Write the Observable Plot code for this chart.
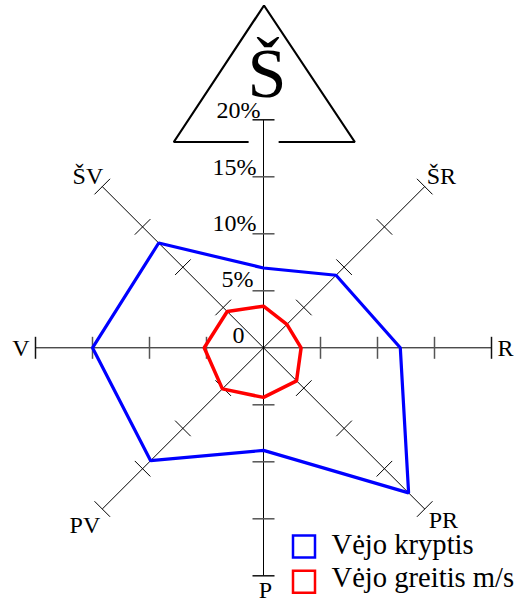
<!DOCTYPE html>
<html><head><meta charset="utf-8">
<script src="https://cdn.jsdelivr.net/npm/d3@7"></script>
<script src="https://cdn.jsdelivr.net/npm/@observablehq/plot@0.6"></script>
<style>html,body{margin:0;padding:0;background:#fff;} #chart{width:519px;height:602px;}</style>
</head><body><div id="chart"></div>
<script>
// ---- data ----
const directions = ["Š", "ŠR", "R", "PR", "P", "PV", "V", "ŠV"];
const angles = [90, 45, 0, -45, -90, -135, 180, 135];
const windDirection = [7.0, 9.0, 12.0, 18.0, 9.0, 14.0, 15.0, 13.0];
const windSpeed = [3.65, 2.9, 3.3, 4.1, 4.35, 5.1, 5.2, 4.5];
const tickValues = [5, 10, 15, 20];
const labelValues = [0, 5, 10, 15, 20];
const tickLabels = ["0", "5%", "10%", "15%", "20%"];
const seriesNames = ["Vėjo kryptis", "Vėjo greitis m/s"];
const seriesColors = ["#0000ff", "#ff0000"];

// ---- layout ----
const W = 519, H = 602, CX = 263, CY = 347.3, K = 11.4; // px per percent
const ux = px => (px - CX) / K, uy = py => (CY - py) / K;
const FONT = "Liberation Serif, Times New Roman, serif";
const rad = a => a * Math.PI / 180;
const RMAX = 20;

const polar = (vals) => directions.map((d, i) => ({dir: d, x: vals[i] * Math.cos(rad(angles[i])), y: vals[i] * Math.sin(rad(angles[i]))}));

const axesData = directions.map((d, i) => ({dir: d, x2: RMAX * Math.cos(rad(angles[i])), y2: RMAX * Math.sin(rad(angles[i]))}));

const h = 11 / K;
const tickData = [];
directions.forEach((d, i) => {
  const c = Math.cos(rad(angles[i])), s = Math.sin(rad(angles[i]));
  tickValues.forEach(v => {
    tickData.push({
      cardinal: angles[i] % 90 === 0, end: v === RMAX,
      x1: v * c + h * s, y1: v * s - h * c,
      x2: v * c - h * s, y2: v * s + h * c
    });
  });
});

// per-label nudges (px)
const tickLabelNudge = [[-19, -5], [-10, -4], [-7, -3], [-7, -2], [-3, -2]];
const dirLabelStyle = {
  "ŠR": ["start", 2, -3], "R": ["start", 6, 8], "PR": ["start", 4, 19], "P": ["middle", 2, 22],
  "PV": ["end", -2, 24], "V": ["end", -6, 8], "ŠV": ["end", 1, -3]
};

// north sign (triangle) in px
const tri = {apexX: 263.5, apexY: 5, baseY: 141.5, left: 173.3, right: 354.3, gapL: 247.3, gapR: 279};
const triPts = [[tri.gapL, tri.baseY], [tri.left, tri.baseY], [tri.apexX, tri.apexY], [tri.right, tri.baseY], [tri.gapR, tri.baseY]]
  .map(([px, py]) => ({x: ux(px), y: uy(py)}));

const marks = [];
// axes
marks.push(Plot.link(axesData, {x1: 0, y1: 0, x2: "x2", y2: "y2", stroke: "black", strokeWidth: 1}));
// ticks
marks.push(Plot.link(tickData.filter(t => t.cardinal && !t.end), {x1: "x1", y1: "y1", x2: "x2", y2: "y2", stroke: "#555", strokeWidth: 1.5}));
marks.push(Plot.link(tickData.filter(t => t.cardinal && t.end), {x1: "x1", y1: "y1", x2: "x2", y2: "y2", stroke: "#111", strokeWidth: 1.5}));
marks.push(Plot.link(tickData.filter(t => !t.cardinal), {x1: "x1", y1: "y1", x2: "x2", y2: "y2", stroke: "black", strokeWidth: 1}));
// north triangle
marks.push(Plot.line(triPts, {x: "x", y: "y", stroke: "black", strokeWidth: 2.2, strokeLinejoin: "miter"}));
marks.push(Plot.text(["Š"], {x: 0, y: uy(96.7), text: d => d, textAnchor: "middle", lineAnchor: "bottom", dx: 3.5, fontSize: 70, fontFamily: FONT, fill: "black"}));
// tick labels
labelValues.forEach((v, i) => {
  marks.push(Plot.text([v], {x: 0, y: d => d, text: () => tickLabels[i], textAnchor: "end", lineAnchor: "bottom",
    dx: tickLabelNudge[i][0], dy: tickLabelNudge[i][1], fontSize: 24, fontFamily: FONT, fill: "black"}));
});
// direction labels
axesData.forEach(a => {
  const st = dirLabelStyle[a.dir];
  if (!st) return;
  marks.push(Plot.text([a], {x: "x2", y: "y2", text: "dir", textAnchor: st[0], lineAnchor: "bottom", dx: st[1], dy: st[2], fontSize: 24, fontFamily: FONT, fill: "black"}));
});
// series
marks.push(Plot.line(polar(windDirection), {x: "x", y: "y", curve: "linear-closed", stroke: seriesColors[0], strokeWidth: 3.2, strokeLinejoin: "miter"}));
marks.push(Plot.line(polar(windSpeed), {x: "x", y: "y", curve: "linear-closed", stroke: seriesColors[1], strokeWidth: 3.5, strokeLinejoin: "miter"}));
// legend
const legendRows = seriesNames.map((n, i) => ({name: n, color: seriesColors[i], sx: ux(303.5), sy: uy([546, 581.2][i]), tx: ux(331), ty: uy([553.3, 586.7][i])}));
marks.push(Plot.dot(legendRows, {x: "sx", y: "sy", symbol: "square", r: 22 / Math.sqrt(Math.PI), stroke: "color", fill: "white", strokeWidth: 2.5}));
marks.push(Plot.text(legendRows, {x: "tx", y: "ty", text: "name", textAnchor: "start", lineAnchor: "bottom", fontSize: 28.6, fontFamily: FONT, fill: "black"}));

const chart = Plot.plot({
  width: W, height: H,
  marginTop: 0, marginRight: 0, marginBottom: 0, marginLeft: 0,
  x: {domain: [-CX / K, (W - CX) / K], range: [0, W], axis: null},
  y: {domain: [-(H - CY) / K, CY / K], range: [H, 0], axis: null},
  color: {type: "identity"},
  style: {background: "white", fontFamily: FONT, overflow: "visible"},
  marks
});
document.getElementById("chart").appendChild(chart);
</script>
</body></html>
